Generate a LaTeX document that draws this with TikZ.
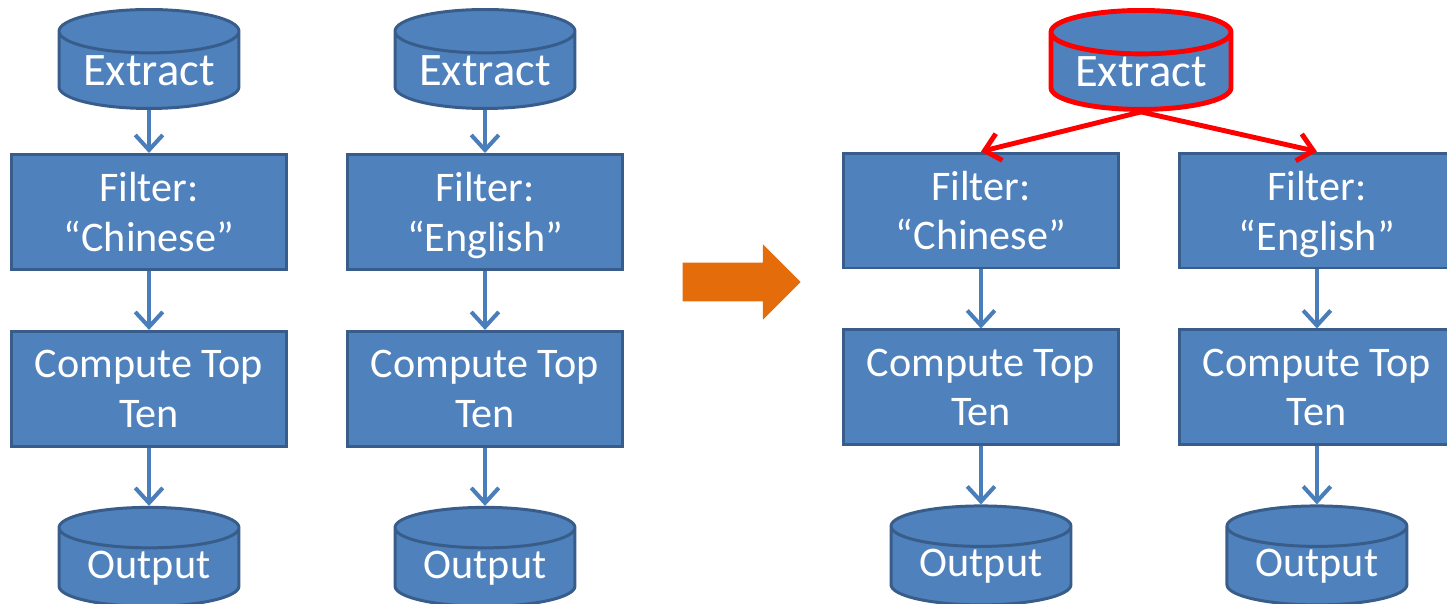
\documentclass[tikz,border=0pt]{standalone}
\usepackage{fontspec}
\setmainfont{Carlito}
\usepackage{tikz}
\usetikzlibrary{shapes.geometric, shapes.arrows, arrows.meta, positioning}

\definecolor{boxfill}{HTML}{4F81BD}
\definecolor{boxline}{HTML}{385D8A}
\definecolor{flowline}{HTML}{4A7EBB}
\definecolor{bigarrow}{HTML}{E46C0A}

\begin{document}
\begin{tikzpicture}[
    x=0.02cm, y=-0.02cm,
    every node/.style={font=\fontsize{24}{28.4}\selectfont, text=white},
    stepbox/.style={rectangle, draw=boxline, fill=boxfill, line width=1.7pt, minimum width=5.5cm, minimum height=2.3cm, align=center, inner sep=0pt},
    store/.style={cylinder, shape border rotate=90, aspect=0.33, draw=boxline, fill=boxfill, line width=1.7pt, minimum width=3.6cm, minimum height=1.98cm, inner sep=0pt},
    source/.style={store, font=\fontsize{26.5}{30}\selectfont},
    flow/.style={-{Straight Barb[length=0.3cm, width=0.55cm]}, flowline, line width=2.3pt},
    fork/.style={-{Straight Barb[length=0.3cm, width=0.55cm]}, red, line width=2.8pt}
]
\useasboundingbox (0,0) rectangle (1447,603);

% Chinese pipeline
\node[source, anchor=north] (ext1) at (149,8) {Extract};
\node[stepbox, below=0.86cm of ext1] (filt1) {Filter:\\“Chinese”};
\node[stepbox, below=1.18cm of filt1] (top1) {Compute Top\\Ten};
\node[store, below=1.16cm of top1] (out1) {Output};

% English pipeline
\node[source, anchor=north] (ext2) at (485,8) {Extract};
\node[stepbox, below=0.86cm of ext2] (filt2) {Filter:\\\smash{“English”}};
\node[stepbox, below=1.18cm of filt2] (top2) {Compute Top\\Ten};
\node[store, below=1.16cm of top2] (out2) {Output};

% Big arrow
\node[single arrow, fill=bigarrow, minimum height=2.36cm, text height=0pt, text depth=0pt, inner xsep=0pt, inner ysep=0.38cm, single arrow head extend=0.37cm] (goes) at (732,282) {};

% Shared extract
\node[source, anchor=north, draw=red, line width=2.8pt] (ext) at (1141,8) {Extract};
\node[stepbox] (filt3) at (981,210.5) {Filter:\\“Chinese”};
\node[stepbox, below=1.18cm of filt3] (top3) {Compute Top\\Ten};
\node[store, below=1.16cm of top3] (out3) {Output};
\node[stepbox, right=1.16cm of filt3] (filt4) {Filter:\\\smash{“English”}};
\node[stepbox, below=1.18cm of filt4] (top4) {Compute Top\\Ten};
\node[store, below=1.16cm of top4] (out4) {Output};

% Arrows
\draw[flow] (ext1) -- (filt1);
\draw[flow] (filt1) -- (top1);
\draw[flow] (top1) -- (out1);
\draw[flow] (ext2) -- (filt2);
\draw[flow] (filt2) -- (top2);
\draw[flow] (top2) -- (out2);
\draw[fork] (ext.south) -- (filt3.north);
\draw[fork] (ext.south) -- (filt4.north);
\draw[flow] (filt3) -- (top3);
\draw[flow] (top3) -- (out3);
\draw[flow] (filt4) -- (top4);
\draw[flow] (top4) -- (out4);

\end{tikzpicture}
\end{document}
